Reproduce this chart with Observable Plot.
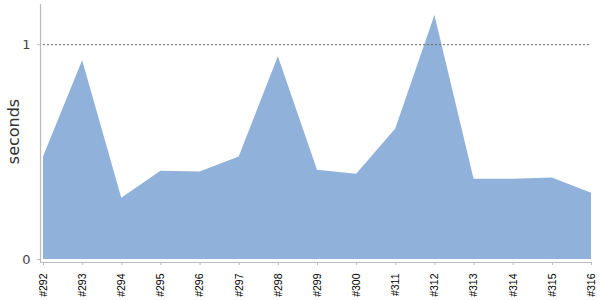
<!DOCTYPE html>
<html>
<head>
<meta charset="utf-8">
<script src="https://cdn.jsdelivr.net/npm/d3@7"></script>
<script src="https://cdn.jsdelivr.net/npm/@observablehq/plot@0.6"></script>
<style>
  html, body { margin: 0; padding: 0; background: #fff; }
  #chart svg { display: block; }
</style>
</head>
<body>
<div id="chart"></div>
<script>
const labels = ["#292","#293","#294","#295","#296","#297","#298","#299","#300","#311","#312","#313","#314","#315","#316"];
const seconds = [0.477,0.925,0.285,0.411,0.407,0.477,0.944,0.416,0.397,0.607,1.136,0.374,0.374,0.379,0.308];
const yTicks = [0, 1];
const yLabel = "seconds";

const data = labels.map((label, i) => ({i, label, v: seconds[i]}));
const idx = data.map(d => d.i);
const lastIdx = idx[idx.length - 1];
const xPad = 0.0766;
const xDomain = [-xPad, lastIdx];
const yDomain = [-0.014, 1.187];

const chart = Plot.plot({
  width: 600,
  height: 300,
  marginLeft: 40,
  marginRight: 9,
  marginTop: 4,
  marginBottom: 38,
  x: {type: "linear", domain: xDomain, axis: null},
  y: {domain: yDomain, axis: null},
  marks: [
    Plot.areaY(data, {x: "i", y: "v", fill: "#8fb1da"}),
    Plot.ruleY([yTicks[1]], {x1: 0, x2: lastIdx, stroke: "#666", strokeDasharray: "2,2", strokeWidth: 1}),
    Plot.ruleX([xDomain[0]], {stroke: "#bbb", strokeWidth: 1.2}),
    Plot.ruleY([yDomain[0]], {x1: xDomain[0], x2: lastIdx, stroke: "#bbb", strokeWidth: 1.2}),
    Plot.axisX(idx, {
      anchor: "bottom",
      tickSize: 3,
      tickPadding: 8,
      tickRotate: -90,
      tickFormat: i => labels[i],
      stroke: "#bbb",
      fill: "#000",
      fontSize: 10.5,
      fontFamily: "Liberation Sans",
      label: null
    }),
    Plot.axisY(yTicks, {
      anchor: "left",
      tickSize: 3,
      tickPadding: 7,
      tickFormat: d => String(d),
      stroke: "#bbb",
      fill: "#444",
      fontSize: 13,
      fontFamily: "DejaVu Sans",
      label: null
    }),
    Plot.text([yLabel], {
      frameAnchor: "left",
      textAnchor: "middle",
      rotate: -90,
      dx: -27,
      dy: -2,
      fontSize: 16,
      fontFamily: "DejaVu Sans",
      fill: "#333"
    })
  ]
});
document.getElementById("chart").appendChild(chart);
</script>
</body>
</html>
